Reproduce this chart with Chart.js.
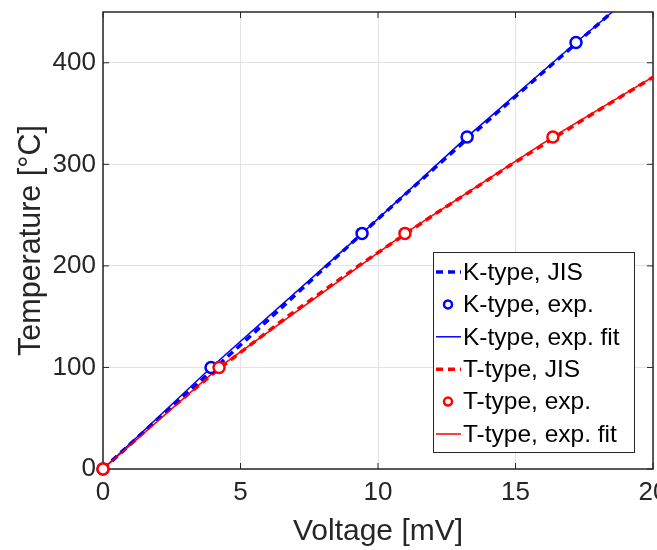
<!DOCTYPE html>
<html>
<head>
<meta charset="utf-8">
<script src="https://cdn.jsdelivr.net/npm/chart.js@4.4.0/dist/chart.umd.min.js"></script>
<style>
html, body { margin: 0; padding: 0; background: #fff; }
</style>
</head>
<body>
<canvas id="tcChart" width="657" height="550"></canvas>
<script>
// JIS reference tables (temperature in degC, voltage in mV)
const kJisTemp = [0, 50, 100, 150, 200, 250, 300, 350, 400, 450];
const kJisVolt = [0, 2.023, 4.096, 6.138, 8.138, 10.153, 12.209, 14.293, 16.397, 18.516];
const tJisTemp = [0, 50, 100, 150, 200, 250, 300, 350, 400];
const tJisVolt = [0, 2.036, 4.279, 6.704, 9.288, 12.013, 14.862, 17.819, 20.872];

// measured points
const kExpTemp = [0, 100, 232, 327, 420];
const kExpVolt = [0, 3.93, 9.42, 13.24, 17.2];
const tExpTemp = [0, 100, 232, 327];
const tExpVolt = [0, 4.22, 10.98, 16.36];

// fit curves
const kFitTemp = [0, 100, 232, 327, 420, 450];
const kFitVolt = [0, 3.93, 9.42, 13.24, 17.2, 18.52];
const tFitTemp = [0, 100, 232, 327, 386];
const tFitVolt = [0, 4.22, 10.98, 16.36, 20];

const xTicks = [0, 5, 10, 15, 20];
const yTicks = [0, 100, 200, 300, 400];

const FONT = "'Liberation Sans', Arial, Helvetica, sans-serif";
const AXIS = '#262626';
const BLUE = '#0000ff';
const RED = '#ff0000';

function pts(xs, ys) {
  return xs.map((v, i) => ({x: v, y: ys[i]}));
}

// frame, inward ticks and the legend box
const framePlugin = {
  id: 'frameAndLegend',
  beforeDatasetsDraw(chart) {
    const ctx = chart.ctx;
    const a = chart.chartArea;
    const xs = chart.scales.x, ys = chart.scales.y;
    ctx.save();
    ctx.strokeStyle = AXIS;
    ctx.lineWidth = 1;
    ctx.beginPath();
    xTicks.forEach(v => {
      const p = xs.getPixelForValue(v);
      ctx.moveTo(p, a.bottom); ctx.lineTo(p, a.bottom - 6);
      ctx.moveTo(p, a.top); ctx.lineTo(p, a.top + 6);
    });
    yTicks.forEach(v => {
      const p = ys.getPixelForValue(v);
      ctx.moveTo(a.left, p); ctx.lineTo(a.left + 6, p);
      ctx.moveTo(a.right, p); ctx.lineTo(a.right - 6, p);
    });
    ctx.stroke();
    ctx.lineWidth = 1.5;
    ctx.strokeRect(a.left, a.top, a.right - a.left, a.bottom - a.top);
    ctx.restore();
  },
  afterDatasetsDraw(chart) {
    const ctx = chart.ctx;
    const a = chart.chartArea;
    ctx.save();
    // legend
    const w = 201, h = 200;
    const bx = a.right - 19 - w, by = a.bottom - 17 - h;
    ctx.fillStyle = '#fff';
    ctx.fillRect(bx, by, w, h);
    ctx.lineWidth = 1;
    ctx.strokeStyle = AXIS;
    ctx.strokeRect(bx + 0.5, by + 0.5, w, h);
    ctx.font = '24.5px ' + FONT;
    ctx.textBaseline = 'middle';
    chart.data.datasets.forEach((ds, i) => {
      const cy = by + 20 + i * 32.4;
      if (ds.showLine === false) {
        ctx.beginPath();
        ctx.arc(bx + 15, cy, 4, 0, Math.PI * 2);
        ctx.fillStyle = '#fff';
        ctx.fill();
        ctx.lineWidth = 2.5;
        ctx.strokeStyle = ds.borderColor;
        ctx.stroke();
      } else {
        ctx.beginPath();
        ctx.setLineDash(ds.borderDash || []);
        ctx.lineWidth = ds.borderWidth;
        ctx.strokeStyle = ds.borderColor;
        ctx.moveTo(bx + 3, cy);
        ctx.lineTo(bx + 28, cy);
        ctx.stroke();
        ctx.setLineDash([]);
      }
      ctx.fillStyle = '#000';
      ctx.fillText(ds.label, bx + 30, cy + 1);
    });
    ctx.restore();
  }
};

const ctx = document.getElementById('tcChart').getContext('2d');
const chart = new Chart(ctx, {
  type: 'line',
  data: {
    datasets: [{
      label: 'K-type, JIS',
      data: pts(kJisVolt, kJisTemp),
      borderColor: BLUE,
      borderWidth: 3.5,
      borderDash: [7, 5],
      pointRadius: 0,
      tension: 0,
      order: 4
    }, {
      label: 'K-type, exp.',
      data: pts(kExpVolt, kExpTemp),
      borderColor: BLUE,
      backgroundColor: '#fff',
      showLine: false,
      pointRadius: 5.5,
      pointBorderWidth: 2.5,
      clip: false,
      order: 1
    }, {
      label: 'K-type, exp. fit',
      data: pts(kFitVolt, kFitTemp),
      borderColor: BLUE,
      borderWidth: 1.5,
      pointRadius: 0,
      tension: 0,
      order: 3
    }, {
      label: 'T-type, JIS',
      data: pts(tJisVolt, tJisTemp),
      borderColor: RED,
      borderWidth: 3.5,
      borderDash: [7, 5],
      pointRadius: 0,
      tension: 0,
      order: 4
    }, {
      label: 'T-type, exp.',
      data: pts(tExpVolt, tExpTemp),
      borderColor: RED,
      backgroundColor: '#fff',
      showLine: false,
      pointRadius: 5.5,
      pointBorderWidth: 2.5,
      clip: false,
      order: 0
    }, {
      label: 'T-type, exp. fit',
      data: pts(tFitVolt, tFitTemp),
      borderColor: RED,
      borderWidth: 1.5,
      pointRadius: 0,
      tension: 0,
      order: 2
    }]
  },
  options: {
    responsive: false,
    animation: false,
    layout: { autoPadding: false, padding: { top: 12, right: 4, left: 0, bottom: 0 } },
    plugins: {
      legend: { display: false },
      tooltip: { enabled: false }
    },
    scales: {
      x: {
        type: 'linear',
        min: 0,
        max: 20,
        border: { display: false },
        grid: { color: '#e3e3e3', lineWidth: 1, drawTicks: false },
        ticks: {
          color: AXIS,
          padding: 8,
          maxRotation: 0,
          autoSkip: false,
          font: { family: FONT, size: 26 }
        },
        title: {
          display: true,
          text: 'Voltage [mV]',
          color: AXIS,
          padding: { top: 0, bottom: 0 },
          font: { family: FONT, size: 30 }
        },
        afterBuildTicks(scale) {
          scale.ticks = xTicks.map(v => ({value: v}));
        },
        afterFit(scale) {
          scale.height = 81;
          scale.paddingLeft = 0;
          scale.paddingRight = 0;
        }
      },
      y: {
        type: 'linear',
        min: 0,
        max: 450,
        border: { display: false },
        grid: { color: '#e3e3e3', lineWidth: 1, drawTicks: false },
        ticks: {
          color: AXIS,
          padding: 7,
          font: { family: FONT, size: 26 }
        },
        title: {
          display: true,
          text: 'Temperature [°C]',
          color: AXIS,
          padding: { top: 13, bottom: 0 },
          font: { family: FONT, size: 30.5 }
        },
        afterBuildTicks(scale) {
          scale.ticks = yTicks.map(v => ({value: v}));
        },
        afterFit(scale) {
          scale.width = 103;
          scale.paddingTop = 0;
          scale.paddingBottom = 0;
        }
      }
    }
  },
  plugins: [framePlugin]
});
</script>
</body>
</html>
